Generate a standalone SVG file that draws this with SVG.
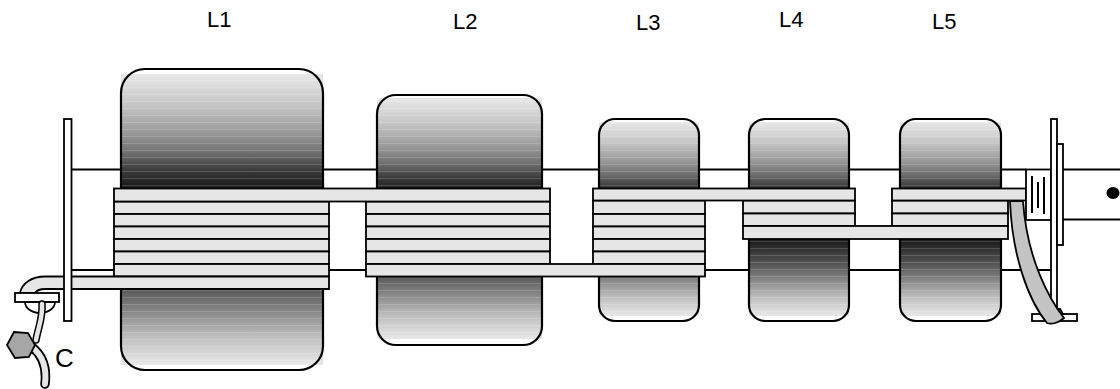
<svg xmlns="http://www.w3.org/2000/svg" width="1120" height="389" viewBox="0 0 1120 389">
  <style>
    .lbl { font-family: "Liberation Sans", Arial, sans-serif; font-size: 22px; fill: #000; }
    .big { font-size: 26px; }
    .ln { stroke: #000; stroke-width: 1.8; fill: none; }
    .body { fill: url(#coilShade); }
    .bands { fill: url(#bandLines); }
    .rim { fill: none; stroke: #000; stroke-width: 2.2; }
    .strip { fill: #e6e6e6; stroke: #000; stroke-width: 1.8; }
    .part { fill: #fff; stroke: #000; stroke-width: 1.8; }
    .tick { stroke: #000; stroke-width: 2; }
  </style>
  <defs>
    <!-- vertical shading of the coil bodies: light ends, dark middle -->
    <linearGradient id="coilShade" x1="0" y1="0" x2="0" y2="1">
      <stop offset="0" stop-color="#e8e8e8"/>
      <stop offset="0.1" stop-color="#c8c8c8"/>
      <stop offset="0.2" stop-color="#9a9a9a"/>
      <stop offset="0.27" stop-color="#707070"/>
      <stop offset="0.33" stop-color="#3c3c3c"/>
      <stop offset="0.38" stop-color="#1e1e1e"/>
      <stop offset="0.62" stop-color="#1e1e1e"/>
      <stop offset="0.67" stop-color="#3a3a3a"/>
      <stop offset="0.74" stop-color="#585858"/>
      <stop offset="0.82" stop-color="#8a8a8a"/>
      <stop offset="0.9" stop-color="#bdbdbd"/>
      <stop offset="1" stop-color="#e8e8e8"/>
    </linearGradient>
    <!-- faint horizontal banding laid over the shading -->
    <pattern id="bandLines" width="8" height="7" patternUnits="userSpaceOnUse">
      <rect x="0" y="3" width="8" height="1" fill="#ffffff" fill-opacity="0.16"/>
    </pattern>
  </defs>

  <!-- core rod -->
  <g id="core">
    <line class="ln" x1="71" y1="169.5" x2="1026" y2="169.5"/>
    <line class="ln" x1="71" y1="270" x2="1051" y2="270"/>
    <line class="ln" x1="1063" y1="169.5" x2="1120" y2="169.5"/>
    <line class="ln" x1="1063" y1="219.5" x2="1120" y2="219.5"/>
  </g>

  <!-- coils -->
  <g id="L1">
    <rect class="body" x="121" y="74" width="202" height="291"/>
    <rect class="bands" x="121" y="74" width="202" height="291"/>
    <rect class="rim" x="121" y="69" width="202" height="301" rx="24"/>
    <rect class="strip" x="114" y="201.5" width="215" height="12.5"/>
    <rect class="strip" x="114" y="214" width="215" height="12.5"/>
    <rect class="strip" x="114" y="226.5" width="215" height="12.5"/>
    <rect class="strip" x="114" y="239" width="215" height="12.5"/>
    <rect class="strip" x="114" y="251.5" width="215" height="12.5"/>
    <rect class="strip" x="114" y="264" width="215" height="12.5"/>
    <text class="lbl" x="207" y="27">L1</text>
  </g>

  <g id="L2">
    <rect class="body" x="377" y="98" width="165" height="241"/>
    <rect class="bands" x="377" y="98" width="165" height="241"/>
    <rect class="rim" x="377" y="95" width="165" height="250" rx="19"/>
    <rect class="strip" x="366" y="201.5" width="184" height="12.5"/>
    <rect class="strip" x="366" y="214" width="184" height="12.5"/>
    <rect class="strip" x="366" y="226.5" width="184" height="12.5"/>
    <rect class="strip" x="366" y="239" width="184" height="12.5"/>
    <rect class="strip" x="366" y="251.5" width="184" height="12.5"/>
    <text class="lbl" x="453" y="29">L2</text>
  </g>

  <g id="L3">
    <rect class="body" x="599" y="122" width="100" height="194"/>
    <rect class="bands" x="599" y="122" width="100" height="194"/>
    <rect class="rim" x="599" y="119" width="100" height="202" rx="16"/>
    <rect class="strip" x="593" y="200.5" width="112" height="13.5"/>
    <rect class="strip" x="593" y="214" width="112" height="12.5"/>
    <rect class="strip" x="593" y="226.5" width="112" height="12.5"/>
    <rect class="strip" x="593" y="239" width="112" height="12.5"/>
    <rect class="strip" x="593" y="251.5" width="112" height="12.5"/>
    <text class="lbl" x="636" y="30">L3</text>
  </g>

  <g id="L4">
    <rect class="body" x="749" y="122" width="100" height="194"/>
    <rect class="bands" x="749" y="122" width="100" height="194"/>
    <rect class="rim" x="749" y="119" width="100" height="202" rx="16"/>
    <rect class="strip" x="743" y="200.5" width="112" height="13"/>
    <rect class="strip" x="743" y="213.5" width="112" height="12.5"/>
    <text class="lbl" x="779" y="27">L4</text>
  </g>

  <g id="L5">
    <rect class="body" x="900" y="122" width="101" height="194"/>
    <rect class="bands" x="900" y="122" width="101" height="194"/>
    <rect class="rim" x="900" y="119" width="101" height="202" rx="16"/>
    <rect class="strip" x="892" y="200.5" width="116" height="13"/>
    <rect class="strip" x="892" y="213.5" width="116" height="12.5"/>
    <text class="lbl" x="932" y="29">L5</text>
  </g>

  <!-- winding runs joining the coils, and the lead-out pipe -->
  <g id="connectors">
    <rect class="strip" x="114" y="188.5" width="436" height="13"/>
    <rect class="strip" x="366" y="264" width="339" height="12.5"/>
    <rect class="strip" x="593" y="188.5" width="262" height="12"/>
    <rect class="strip" x="743" y="226" width="265" height="13"/>
    <rect class="strip" x="892" y="188.5" width="134" height="12"/>
    <path class="strip" d="M329,276.5 L45,276.5 C32,276.5 22,283 20,293 L35,293 C37,290 40,289 45,289 L329,289 Z"/>
  </g>

  <!-- left end: flange, terminal and cable C -->
  <g id="leftEnd">
    <rect class="part" x="64" y="119" width="7.5" height="202"/>
    <rect class="part" x="15" y="293" width="44" height="9"/>
    <path class="part" d="M25,302 A15,11 0 0 0 55,302 Z"/>
  </g>

  <g id="C">
    <path d="M42,304 C43,318 38,328 36,340" fill="none" stroke="#000" stroke-width="7.5" stroke-linecap="round"/>
    <path d="M42,304 C43,318 38,328 36,340" fill="none" stroke="#e6e6e6" stroke-width="4.5" stroke-linecap="round"/>
    <path d="M32,347 C42,355 47,368 45,384" fill="none" stroke="#000" stroke-width="9.5" stroke-linecap="round"/>
    <path d="M32,347 C42,355 47,368 45,384" fill="none" stroke="#e6e6e6" stroke-width="6" stroke-linecap="round"/>
    <polygon points="14,332 28,333 35,345 29,357 15,358 7,345" fill="#a6a6a6" stroke="#000" stroke-width="1.8"/>
    <text class="lbl big" x="55" y="367">C</text>
  </g>

  <!-- right end: terminal block, flanges, foot and lead -->
  <g id="rightEnd">
    <rect class="part" x="1026" y="169.5" width="25" height="50.5"/>
    <line class="tick" x1="1032" y1="176" x2="1032" y2="213"/>
    <line class="tick" x1="1038" y1="182" x2="1038" y2="208"/>
    <line class="tick" x1="1044" y1="177" x2="1044" y2="214"/>
    <rect class="part" x="1051" y="119" width="6" height="195"/>
    <rect class="part" x="1057" y="144" width="6" height="101"/>
    <ellipse cx="1113" cy="193" rx="6.5" ry="6" fill="#000"/>
    <rect class="part" x="1032" y="314" width="45" height="7"/>
    <path class="part" d="M1051,314 L1053,309 L1060,309 L1063,314 Z"/>
    <path d="M1010,201 C1012,255 1028,300 1047,323 C1052,325 1060,322 1064,318 C1050,300 1027,260 1023,201 Z" fill="#c4c4c4" stroke="#000" stroke-width="1.8"/>
  </g>
</svg>
